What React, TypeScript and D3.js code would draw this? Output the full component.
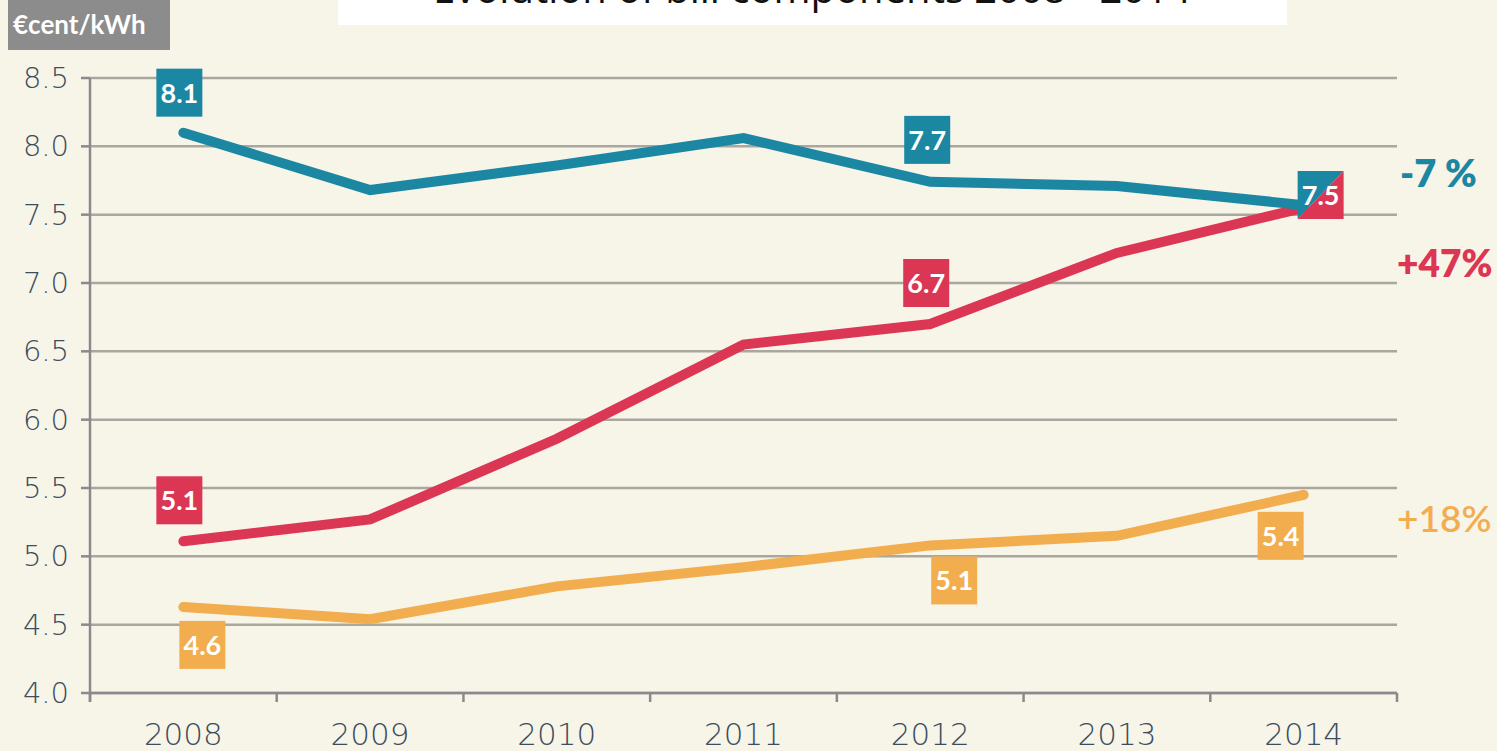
import React from "react";
import * as d3 from "d3";

const years = ["2008", "2009", "2010", "2011", "2012", "2013", "2014"];
const blueValues = [8.1, 7.68, 7.86, 8.06, 7.74, 7.71, 7.57];
const redValues = [5.11, 5.27, 5.86, 6.55, 6.7, 7.22, 7.55];
const orangeValues = [4.63, 4.54, 4.78, 4.92, 5.08, 5.15, 5.45];
const yTicks = [4.0, 4.5, 5.0, 5.5, 6.0, 6.5, 7.0, 7.5, 8.0, 8.5];
const title = "Evolution of bill components 2008 - 2014";
const unitLabel = "€cent/kWh";
const changeLabels = ["-7 %", "+47%", "+18%"];

// value labels: [year index, text, dx offset from point, dy offset from point]
const blueLabels = [
  { i: 0, text: "8.1", dx: -4, dy: -40 },
  { i: 4, text: "7.7", dx: -3, dy: -42 },
];
const redLabels = [
  { i: 0, text: "5.1", dx: -4, dy: -41 },
  { i: 4, text: "6.7", dx: -4, dy: -41 },
];
const orangeLabels = [
  { i: 0, text: "4.6", dx: 19, dy: 38 },
  { i: 4, text: "5.1", dx: 24, dy: 35 },
  { i: 6, text: "5.4", dx: -23, dy: 41 },
];

const W = 1497;
const H = 751;
const BG = "#f7f4e8";
const BLUE = "#1b87a3";
const RED = "#dc3655";
const ORANGE = "#f2ad4e";
const TICK_COLOR = "#3b4d5e";
const FONT = "Lato, 'Open Sans', sans-serif";
const TICK_FONT = "'DejaVu Sans', sans-serif";

export default function App() {
  const x = d3.scaleBand<string>().domain(years).range([90, 1397]);
  const y = d3.scaleLinear().domain([4, 8.5]).range([693, 78]);
  const cx = (i: number) => (x(years[i]) as number) + x.bandwidth() / 2;

  const line = d3
    .line<number>()
    .x((_, i) => cx(i))
    .y((d) => y(d));

  const bw = 46;
  const bh = 48;

  const renderLabels = (
    labels: { i: number; text: string; dx: number; dy: number }[],
    values: number[],
    color: string
  ) =>
    labels.map((l, k) => {
      const px = cx(l.i) + l.dx;
      const py = y(values[l.i]) + l.dy;
      return (
        <g key={k}>
          <rect x={px - bw / 2} y={py - bh / 2} width={bw} height={bh} fill={color} />
          <text
            x={px}
            y={py + 10}
            textAnchor="middle"
            fontSize={27}
            fontWeight={700}
            fill="#fff"
            fontFamily={FONT}
          >
            {l.text}
          </text>
        </g>
      );
    });

  // shared 7.5 box at 2014
  const sx = cx(6) + 17;
  const sy = y(7.57) - 10;
  const sL = sx - bw / 2;
  const sR = sx + bw / 2;
  const sT = sy - bh / 2;
  const sB = sy + bh / 2;

  const x0 = x.range()[0];
  const x1 = x.range()[1];
  const boundaries = years.map((yr) => x(yr) as number).concat([x1]);

  return (
    <svg
      width={W}
      height={H}
      style={{ position: "absolute", left: 0, top: 0, background: BG }}
    >
      <rect x={0} y={0} width={W} height={H} fill={BG} />
      {/* title box, cut off at top */}
      <rect x={338} y={0} width={949} height={25} fill="#fff" />
      <text
        x={812}
        y={3}
        textAnchor="middle"
        fontSize={40}
        fill="#111"
        fontFamily="'Open Sans', sans-serif"
      >
        {title}
      </text>
      {/* unit label */}
      <rect x={8} y={0} width={162} height={50} fill="#8c8c8c" />
      <text x={13} y={34} fontSize={26} fontWeight={700} fill="#fff" fontFamily={FONT}>
        {unitLabel}
      </text>

      {/* grid */}
      {yTicks.map((t) => (
        <g key={t}>
          <line x1={x0} x2={x1} y1={y(t)} y2={y(t)} stroke="#a9a7a0" strokeWidth={2.5} />
          <line x1={x0 - 9} x2={x0} y1={y(t)} y2={y(t)} stroke="#8a8a8a" strokeWidth={2.5} />
          <text
            x={69}
            y={y(t) + 10}
            textAnchor="end"
            fontSize={29}
            fontWeight={200}
            fill={TICK_COLOR}
            fontFamily={TICK_FONT}
          >
            {t.toFixed(1)}
          </text>
        </g>
      ))}
      {/* axes */}
      <line x1={x0} x2={x0} y1={y(8.5)} y2={y(4) + 9} stroke="#8a8a8a" strokeWidth={2.5} />
      <line x1={x0} x2={x1} y1={y(4)} y2={y(4)} stroke="#8a8a8a" strokeWidth={2.5} />
      {boundaries.map((b, k) => (
        <line key={k} x1={b} x2={b} y1={y(4)} y2={y(4) + 9} stroke="#8a8a8a" strokeWidth={2.5} />
      ))}
      {years.map((yr, i) => (
        <text
          key={yr}
          x={cx(i)}
          y={745}
          textAnchor="middle"
          fontSize={31}
          fontWeight={200}
          fill={TICK_COLOR}
          fontFamily={TICK_FONT}
        >
          {yr}
        </text>
      ))}

      {/* lines */}
      <path d={line(orangeValues) || ""} fill="none" stroke={ORANGE} strokeWidth={10} strokeLinecap="round" />
      <path d={line(redValues) || ""} fill="none" stroke={RED} strokeWidth={10} strokeLinecap="round" />
      <path d={line(blueValues) || ""} fill="none" stroke={BLUE} strokeWidth={10} strokeLinecap="round" />

      {renderLabels(blueLabels, blueValues, BLUE)}
      {renderLabels(redLabels, redValues, RED)}
      {renderLabels(orangeLabels, orangeValues, ORANGE)}

      {/* shared label */}
      <polygon points={`${sL},${sT} ${sR},${sT} ${sL},${sB}`} fill={BLUE} />
      <polygon points={`${sR},${sT} ${sR},${sB} ${sL},${sB}`} fill={RED} />
      <text x={sx} y={sy + 10} textAnchor="middle" fontSize={27} fontWeight={700} fill="#fff" fontFamily={FONT}>
        7.5
      </text>

      {/* change annotations */}
      <text x={1400} y={187} fontSize={38} fontWeight={800} fill={BLUE} fontFamily={FONT}>
        {changeLabels[0]}
      </text>
      <text x={1397} y={277} fontSize={37} fontWeight={800} fill={RED} fontFamily={FONT}>
        {changeLabels[1]}
      </text>
      <text x={1397} y={532} fontSize={37} fontWeight={600} fill={ORANGE} fontFamily={FONT}>
        {changeLabels[2]}
      </text>
    </svg>
  );
}
